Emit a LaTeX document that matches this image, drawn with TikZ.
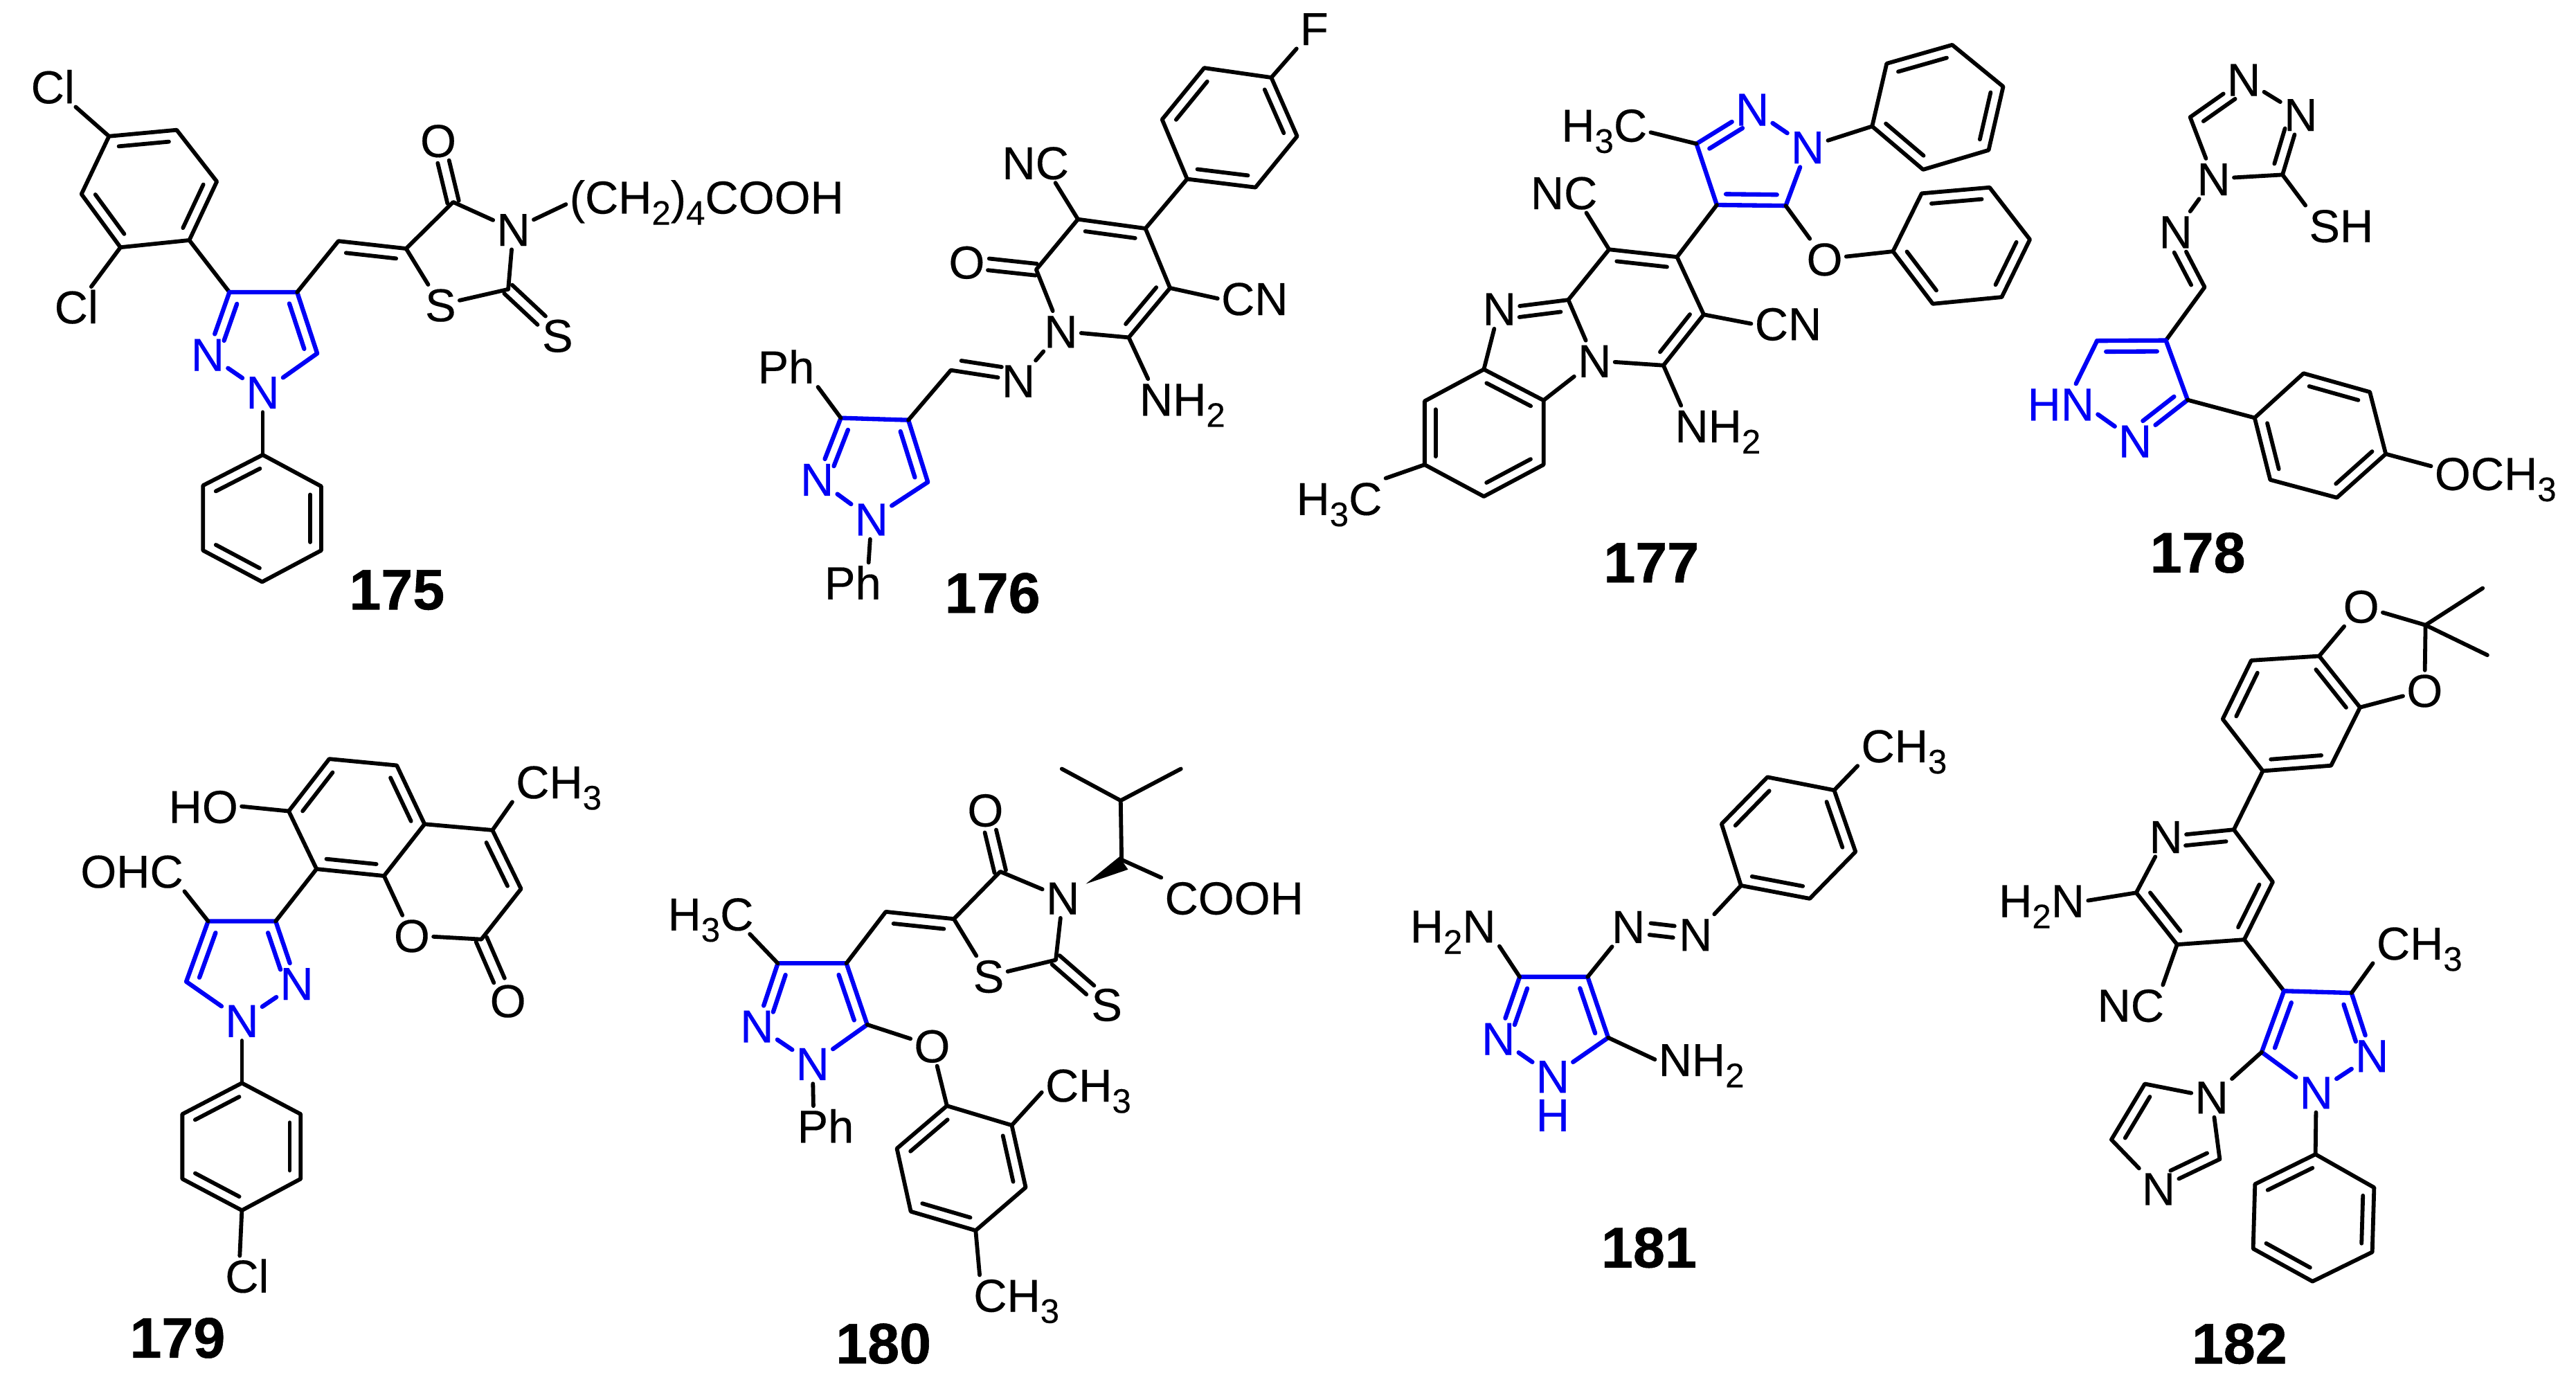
\documentclass[tikz,border=0pt]{standalone}
\usepackage{fontspec}
\setmainfont[FakeBold=0.25]{Liberation Sans}
\newfontfamily\tagfont[FakeBold=0.7]{Liberation Sans Bold}
\usetikzlibrary{calc}
\definecolor{chemblue}{RGB}{0,0,245}
% inner line of a double bond, on the right hand side going from #2 to #3
\newcommand{\dbl}[3][bond]{\draw[#1] ($(#2)!.13!(#3)!4.5pt!-90:(#3)$) to ($(#3)!.13!(#2)!4.5pt!90:(#2)$);}
% two equal lines round the axis from #2 to #3
\newcommand{\twobond}[3][bond]{\draw[#1] ($(#2)!2.4pt!90:(#3)$) to ($(#3)!2.4pt!-90:(#2)$);
  \draw[#1] ($(#2)!2.4pt!-90:(#3)$) to ($(#3)!2.4pt!90:(#2)$);}
\newcommand{\lo}[1]{\raisebox{-4.6pt}{\fontsize{14}{14}\selectfont #1}}
\begin{document}
\begin{tikzpicture}
  [atom/.style ={inner sep=1.3pt,text height=13.6pt,text depth=0pt,font=\fontsize{19}{19}\selectfont},
   blueatom/.style ={atom,text=chemblue},
   bond/.style ={line width=1.65pt,line cap=round,line join=round},
   bluebond/.style ={bond,chemblue,line width=1.8pt},
   tag/.style ={inner sep=0pt,text height=16.8pt,text depth=0pt,font=\fontsize{23.5}{23.5}\tagfont},
   view/.style n args={4}{shift={({#1*0.01cm},{-#2*0.01cm})},x={#3/1568*0.01cm},y={-#4/1568*0.01cm}}]
  \useasboundingbox (0,0) rectangle (37.21cm,-20.08cm);

  % 175
  \begin{scope}[view={0}{0}{1300}{950},name prefix=m175-]
    \coordinate (a1) at (190,325); \coordinate (a2) at (308,310); \coordinate (a3) at (378,433);
    \coordinate (a4) at (330,573); \coordinate (a5) at (210,590); \coordinate (a6) at (142,463);
    \coordinate (b1) at (400,697); \coordinate (b2) at (518,697); \coordinate (b3) at (553,843);
    \coordinate (p1) at (458,1085); \coordinate (p2) at (560,1160); \coordinate (p3) at (560,1313);
    \coordinate (p4) at (457,1388); \coordinate (p5) at (354,1313); \coordinate (p6) at (354,1158);
    \coordinate (v1) at (590,575); \coordinate (v2) at (708,593);
    \coordinate (t1) at (790,482); \coordinate (t2) at (886,690);
    \node[atom] (cl1) at (92,207) {Cl};
    \node[atom] (cl2) at (133,732) {Cl};
    \node[blueatom] (n1) at (362,845) {N};
    \node[blueatom] (n2) at (458,935) {N};
    \node[atom] (n3) at (895,547) {N};
    \node[atom] (o) at (764,335) {O};
    \node[atom] (s1) at (768,727) {S};
    \node[atom] (s2) at (972,800) {S};
    \node[atom] (chain) at (1232,470) {(CH\lo{2})\lo{4}COOH};
    \draw[bond] (a1) to (a2) to (a3) to (a4) to (a5) to (a6) to (a1);
    \dbl{a1}{a2} \dbl{a3}{a4} \dbl{a5}{a6}
    \draw[bond] (a1) to (cl1);
    \draw[bond] (a5) to (cl2);
    \draw[bond] (a4) to (b1);
    \draw[bluebond] (n1) to (b1) to (b2) to (b3) to (n2) to (n1);
    \dbl[bluebond,shorten <=4pt]{n1}{b1} \dbl[bluebond]{b2}{b3}
    \draw[bond] (n2) to (p1);
    \draw[bond] (p1) to (p2) to (p3) to (p4) to (p5) to (p6) to (p1);
    \dbl{p6}{p1} \dbl{p2}{p3} \dbl{p4}{p5}
    \draw[bond] (b2) to (v1) to (v2);
    \dbl{v1}{v2}
    \draw[bond] (v2) to (t1) to (n3) to (t2) to (s1) to (v2);
    \twobond[bond,shorten >=9pt]{t1}{o}
    \twobond[bond,shorten >=9pt]{t2}{s2}
    \draw[bond] (n3) to ([yshift=-3pt]chain.west);
    \node[tag] (tag) at (692,1405) {175};
  \end{scope}

  % 176
  \begin{scope}[view={1050}{0}{900}{950},name prefix=m176-]
    \coordinate (c1) at (288,997); \coordinate (c2) at (458,1002); \coordinate (c3) at (507,1150);
    \coordinate (im) at (565,883);
    \coordinate (r2) at (1013,805); \coordinate (r3) at (1117,687); \coordinate (r4) at (1055,545);
    \coordinate (r5) at (885,523); \coordinate (r6) at (780,643);
    \coordinate (a1) at (1160,427); \coordinate (a2) at (1097,285); \coordinate (a3) at (1203,162);
    \coordinate (a4) at (1372,185); \coordinate (a5) at (1437,325); \coordinate (a6) at (1332,447);
    \node[blueatom] (n1) at (365,1238) {N};
    \node[blueatom] (n2) at (228,1143) {N};
    \node[atom] (n3) at (735,908) {N};
    \node[atom] (n4) at (842,790) {N};
    \node[atom] (ph1) at (150,875) {Ph};
    \node[atom] (ph2) at (318,1390) {Ph};
    \node[atom] (o) at (605,625) {O};
    \node[atom] (nc) at (778,388) {NC};
    \node[atom] (cn) at (1330,712) {CN};
    \node[atom] (nh2) at (1148,952) {NH\lo{2}};
    \node[atom] (f) at (1480,68) {F};
    \draw[bluebond] (n2) to (c1) to (c2) to (c3) to (n1) to (n2);
    \dbl[bluebond,shorten <=4pt]{n2}{c1} \dbl[bluebond]{c2}{c3}
    \draw[bond] (c1) to (ph1.south east);
    \draw[bond] (n1) to ([xshift=6.5pt]ph2.north);
    \draw[bond] (c2) to (im) to (n3) to (n4) to (r2);
    \dbl[bond,shorten <=4pt]{n3}{im}
    \draw[bond] (n4) to (r6) to (r5) to (r4) to (r3) to (r2);
    \dbl{r5}{r4} \dbl{r3}{r2}
    \twobond[bond,shorten >=9pt]{r6}{o}
    \draw[bond] (r5) to ([xshift=-7pt]nc.south east);
    \draw[bond] (r3) to (cn.west);
    \draw[bond] (r2) to ([xshift=5pt]nh2.north west);
    \draw[bond] (r4) to (a1);
    \draw[bond] (a1) to (a2) to (a3) to (a4) to (a5) to (a6) to (a1);
    \dbl{a2}{a3} \dbl{a4}{a5} \dbl{a6}{a1}
    \draw[bond] (a4) to (f);
    \node[tag] (tag) at (670,1413) {176};
  \end{scope}

  % 177
  \begin{scope}[view={1850}{0}{1100}{900},name prefix=m177-]
    \coordinate (c1) at (858,362); \coordinate (c2) at (900,516); \coordinate (c3) at (1042,518);
    \coordinate (q1) at (1220,318); \coordinate (q2) at (1250,160); \coordinate (q3) at (1385,113);
    \coordinate (q4) at (1490,218); \coordinate (q5) at (1460,378); \coordinate (q6) at (1325,427);
    \coordinate (s1) at (1263,633); \coordinate (s2) at (1322,487); \coordinate (s3) at (1462,472);
    \coordinate (s4) at (1545,603); \coordinate (s5) at (1487,748); \coordinate (s6) at (1345,765);
    \coordinate (d1) at (678,628); \coordinate (d2) at (818,647); \coordinate (d3) at (873,792);
    \coordinate (d4) at (790,920); \coordinate (d6) at (594,755);
    \coordinate (e1) at (420,930); \coordinate (e2) at (543,1008); \coordinate (e3) at (543,1170);
    \coordinate (e4) at (420,1250); \coordinate (e5) at (298,1170); \coordinate (e6) at (298,1010);
    \node[blueatom] (n1) at (973,275) {N};
    \node[blueatom] (n2) at (1087,370) {N};
    \node[atom] (n3) at (648,908) {N};
    \node[atom] (n4) at (452,777) {N};
    \node[atom] (o) at (1122,652) {O};
    \node[atom] (me1) at (668,315) {H\lo{3}C};
    \node[atom] (me2) at (122,1255) {H\lo{3}C};
    \node[atom] (nc) at (585,485) {NC};
    \node[atom] (cn) at (1047,815) {CN};
    \node[atom] (nh2) at (902,1072) {NH\lo{2}};
    \draw[bluebond] (c1) to (n1) to (n2) to (c3) to (c2) to (c1);
    \dbl[bluebond,shorten >=4pt]{c1}{n1} \dbl[bluebond]{c3}{c2}
    \draw[bond] (c1) to ([yshift=-3pt]me1.east);
    \draw[bond] (n2) to (q1);
    \draw[bond] (q1) to (q2) to (q3) to (q4) to (q5) to (q6) to (q1);
    \dbl{q2}{q3} \dbl{q4}{q5} \dbl{q6}{q1}
    \draw[bond] (c3) to (o) to (s1);
    \draw[bond] (s1) to (s2) to (s3) to (s4) to (s5) to (s6) to (s1);
    \dbl{s2}{s3} \dbl{s4}{s5} \dbl{s6}{s1}
    \draw[bond] (c2) to (d2);
    \draw[bond] (d1) to (d2) to (d3) to (d4) to (n3) to (d6) to (d1);
    \dbl{d1}{d2} \dbl{d3}{d4}
    \draw[bond] (d1) to ([xshift=-6pt]nc.south east);
    \draw[bond] (d3) to (cn.west);
    \draw[bond] (d4) to ([xshift=4pt]nh2.north west);
    \draw[bond] (n4) to (d6);
    \dbl[bond,shorten <=4pt]{n4}{d6}
    \draw[bond] (n4) to (e1);
    \draw[bond] (n3) to (e2);
    \draw[bond] (e1) to (e2) to (e3) to (e4) to (e5) to (e6) to (e1);
    \dbl{e1}{e2} \dbl{e3}{e4} \dbl{e5}{e6}
    \draw[bond] (e5) to (me2.north east);
    \node[tag] (tag) at (765,1415) {177};
  \end{scope}

  % 178
  \begin{scope}[view={2900}{0}{821}{900},name prefix=m178-]
    \coordinate (t1) at (762,440); \coordinate (t2) at (507,295); \coordinate (ci) at (547,723);
    \coordinate (p1) at (250,858); \coordinate (p2) at (440,857); \coordinate (p3) at (500,1007);
    \coordinate (a1) at (685,1052); \coordinate (a2) at (820,940); \coordinate (a3) at (1003,987);
    \coordinate (a4) at (1047,1143); \coordinate (a5) at (912,1253); \coordinate (a6) at (728,1208);
    \node[atom] (n1) at (655,200) {N};
    \node[atom] (n2) at (812,288) {N};
    \node[atom] (n3) at (572,450) {N};
    \node[atom] (n4) at (467,583) {N};
    \node[blueatom] (n5) at (355,1110) {N};
    \node[blueatom] (hn) at (150,1017) {HN};
    \node[atom] (sh) at (924,568) {SH};
    \node[atom] (och) at (1350,1192) {OCH\lo{3}};
    \draw[bond] (t2) to (n1) to (n2) to (t1) to (n3) to (t2);
    \dbl[bond,shorten >=4pt]{t2}{n1} \dbl[bond,shorten <=4pt]{n2}{t1}
    \draw[bond] (t1) to (sh.north west);
    \draw[bond] (n3) to (n4) to (ci) to (p2);
    \dbl[bond,shorten <=4pt]{n4}{ci}
    \draw[bluebond] (p1) to (p2) to (p3) to (n5);
    \draw[bluebond] (n5) to ([yshift=4pt]hn.south east);
    \draw[bluebond] ([xshift=-9pt]hn.north east) to (p1);
    \dbl[bluebond]{p1}{p2} \dbl[bluebond,shorten >=4pt]{p3}{n5}
    \draw[bond] (p3) to (a1);
    \draw[bond] (a1) to (a2) to (a3) to (a4) to (a5) to (a6) to (a1);
    \dbl{a2}{a3} \dbl{a4}{a5} \dbl{a6}{a1}
    \draw[bond] (a4) to ([yshift=3pt]och.west);
    \node[tag] (tag) at (528,1390) {178};
  \end{scope}

  % 179
  \begin{scope}[view={50}{1030}{900}{978},name prefix=m179-]
    \coordinate (c1) at (437,483); \coordinate (c2) at (607,483); \coordinate (c3) at (382,623);
    \coordinate (b1) at (710,362); \coordinate (b2) at (640,228); \coordinate (b3) at (742,107);
    \coordinate (b4) at (912,122); \coordinate (b5) at (982,258); \coordinate (b6) at (880,378);
    \coordinate (k1) at (1153,272); \coordinate (k2) at (1225,408); \coordinate (k3) at (1125,525);
    \coordinate (h1) at (522,858); \coordinate (h2) at (670,930); \coordinate (h3) at (670,1080);
    \coordinate (h4) at (522,1153); \coordinate (h5) at (372,1080); \coordinate (h6) at (372,930);
    \node[blueatom] (n1) at (660,627) {N};
    \node[blueatom] (n2) at (522,713) {N};
    \node[atom] (o1) at (950,516) {O};
    \node[atom] (o2) at (1192,667) {O};
    \node[atom] (ohc) at (245,367) {OHC};
    \node[atom] (ho) at (425,217) {HO};
    \node[atom] (me) at (1320,160) {CH\lo{3}};
    \node[atom] (cl) at (535,1305) {Cl};
    \draw[bluebond] (c1) to (c2) to (n1) to (n2) to (c3) to (c1);
    \dbl[bluebond,shorten >=4pt]{c2}{n1} \dbl[bluebond]{c3}{c1}
    \draw[bond] (c1) to ([xshift=-1pt]ohc.south east);
    \draw[bond] (c2) to (b1);
    \draw[bond] (b1) to (b2) to (b3) to (b4) to (b5) to (b6) to (b1);
    \dbl{b2}{b3} \dbl{b4}{b5} \dbl{b6}{b1}
    \draw[bond] (b2) to (ho.east);
    \draw[bond] (b5) to (k1) to (k2) to (k3) to (o1) to (b6);
    \dbl{k1}{k2}
    \twobond[bond,shorten >=9pt]{k3}{o2}
    \draw[bond] (k1) to (me.south west);
    \draw[bond] (n2) to (h1);
    \draw[bond] (h1) to (h2) to (h3) to (h4) to (h5) to (h6) to (h1);
    \dbl{h6}{h1} \dbl{h2}{h3} \dbl{h4}{h5}
    \draw[bond] (h4) to ([xshift=-3pt]cl.north);
    \node[tag] (tag) at (360,1447) {179};
  \end{scope}

  % 180
  \begin{scope}[view={930}{1050}{1050}{958},name prefix=m180-]
    \coordinate (c1) at (290,560); \coordinate (c2) at (438,560); \coordinate (c3) at (483,705);
    \coordinate (r1) at (655,897); \coordinate (r2) at (795,943); \coordinate (r3) at (825,1090);
    \coordinate (r4) at (717,1192); \coordinate (r5) at (577,1147); \coordinate (r6) at (547,998);
    \coordinate (v1) at (523,438); \coordinate (v2) at (670,455);
    \coordinate (t1) at (770,343); \coordinate (t2) at (890,552);
    \coordinate (w) at (1032,315); \coordinate (wa) at (1027,308); \coordinate (wb) at (1046,338);
    \coordinate (wt) at (955,372);
    \coordinate (i) at (1030,175); \coordinate (i1) at (903,100); \coordinate (i2) at (1160,100);
    \node[blueatom] (n1) at (365,797) {N};
    \node[blueatom] (n2) at (245,708) {N};
    \node[atom] (n3) at (905,405) {N};
    \node[atom] (o1) at (623,755) {O};
    \node[atom] (o2) at (738,197) {O};
    \node[atom] (s1) at (745,590) {S};
    \node[atom] (s2) at (1000,657) {S};
    \node[atom] (me1) at (145,443) {H\lo{3}C};
    \node[atom] (me2) at (960,848) {CH\lo{3}};
    \node[atom] (me3) at (805,1345) {CH\lo{3}};
    \node[atom] (ph) at (393,945) {Ph};
    \node[atom] (cooh) at (1275,405) {COOH};
    \draw[bluebond] (n2) to (c1) to (c2) to (c3) to (n1) to (n2);
    \dbl[bluebond,shorten <=4pt]{n2}{c1} \dbl[bluebond]{c2}{c3}
    \draw[bond] (c1) to ([xshift=-3pt]me1.south east);
    \draw[bond] (n1) to ([xshift=-5pt]ph.north);
    \draw[bond] (c3) to (o1) to (r1);
    \draw[bond] (r1) to (r2) to (r3) to (r4) to (r5) to (r6) to (r1);
    \dbl{r6}{r1} \dbl{r2}{r3} \dbl{r4}{r5}
    \draw[bond] (r2) to ([yshift=-3pt]me2.west);
    \draw[bond] (r4) to ([xshift=4pt]me3.north west);
    \draw[bond] (c2) to (v1) to (v2);
    \dbl{v1}{v2}
    \draw[bond] (v2) to (t1) to (n3) to (t2) to (s1) to (v2);
    \twobond[bond,shorten >=9pt]{t1}{o2}
    \twobond[bond,shorten >=9pt]{t2}{s2}
    \fill (wt) -- (wa) -- (wb) -- cycle;
    \draw[bond] (w) to (i) to (i1);
    \draw[bond] (i) to (i2);
    \draw[bond] (w) to (cooh.north west);
    \node[tag] (tag) at (518,1458) {180};
  \end{scope}

  % 181
  \begin{scope}[view={2000}{1030}{880}{900},name prefix=m181-]
    \coordinate (c1) at (350,665); \coordinate (c2) at (525,665); \coordinate (c3) at (578,818);
    \coordinate (a1) at (920,435); \coordinate (a2) at (870,280); \coordinate (a3) at (988,162);
    \coordinate (a4) at (1160,195); \coordinate (a5) at (1215,350); \coordinate (a6) at (1097,468);
    \node[blueatom] (n1) at (435,915) {N};
    \node[blueatom,inner sep=0pt] (h) at (435,1012) {H};
    \node[blueatom] (n2) at (295,820) {N};
    \node[atom] (n3) at (630,538) {N};
    \node[atom] (n4) at (803,558) {N};
    \node[atom] (nh1) at (178,537) {H\lo{2}N};
    \node[atom] (nh2) at (818,873) {NH\lo{2}};
    \node[atom] (me) at (1340,83) {CH\lo{3}};
    \draw[bluebond] (n2) to (c1) to (c2) to (c3) to (n1) to (n2);
    \dbl[bluebond,shorten <=4pt]{n2}{c1} \dbl[bluebond]{c2}{c3}
    \draw[bond] (c1) to (nh1.south east);
    \draw[bond] (c3) to (nh2.west);
    \draw[bond] (c2) to (n3);
    \twobond[bond,shorten <=9pt,shorten >=9pt]{n3}{n4}
    \draw[bond] (n4) to (a1);
    \draw[bond] (a1) to (a2) to (a3) to (a4) to (a5) to (a6) to (a1);
    \dbl{a2}{a3} \dbl{a4}{a5} \dbl{a6}{a1}
    \draw[bond] (a4) to (me.south west);
    \node[tag] (tag) at (683,1345) {181};
  \end{scope}

  % 182
  \begin{scope}[view={2880}{900}{841}{1108},name prefix=m182-]
    \coordinate (k1) at (650,423); \coordinate (k2) at (755,530); \coordinate (k3) at (678,648);
    \coordinate (k4) at (497,658); \coordinate (k5) at (387,552);
    \coordinate (p1) at (785,753); \coordinate (p2) at (967,757); \coordinate (p3) at (725,878);
    \coordinate (d1) at (728,303); \coordinate (d2) at (620,197); \coordinate (d3) at (697,77);
    \coordinate (d4) at (880,68); \coordinate (d5) at (990,173); \coordinate (d6) at (912,292);
    \coordinate (g1) at (870,1087); \coordinate (g2) at (1028,1155); \coordinate (g3) at (1023,1287);
    \coordinate (g4) at (862,1347); \coordinate (g5) at (702,1280); \coordinate (g6) at (707,1148);
    \coordinate (i1) at (410,943); \coordinate (i2) at (320,1057); \coordinate (i3) at (612,1097);
    \node[atom] (n1) at (467,437) {N};
    \node[blueatom] (n2) at (1022,885) {N};
    \node[blueatom] (n3) at (872,960) {N};
    \node[atom] (n4) at (590,970) {N};
    \node[atom] (n5) at (447,1157) {N};
    \node[atom] (nh) at (132,568) {H\lo{2}N};
    \node[atom] (nc) at (372,782) {NC};
    \node[atom] (me) at (1150,655) {CH\lo{3}};
    \draw[bond] (n1) to (k1) to (k2) to (k3) to (k4) to (k5) to (n1);
    \dbl[bond,shorten <=4pt]{n1}{k1} \dbl{k2}{k3} \dbl{k4}{k5}
    \draw[bond] (k5) to (nh.east);
    \draw[bond] (k4) to ([xshift=-2pt]nc.north east);
    \draw[bond] (k3) to (p1);
    \draw[bluebond] (p1) to (p2) to (n2) to (n3) to (p3) to (p1);
    \dbl[bluebond,shorten >=4pt]{p2}{n2} \dbl[bluebond]{p3}{p1}
    \draw[bond] (p2) to (me.south west);
    \draw[bond] (p3) to (n4) to (i1) to (i2) to (n5) to (i3) to (n4);
    \dbl{i2}{i1} \dbl[bond,shorten >=4pt]{i3}{n5}
    \draw[bond] (n3) to (g1);
    \draw[bond] (g1) to (g2) to (g3) to (g4) to (g5) to (g6) to (g1);
    \dbl{g6}{g1} \dbl{g2}{g3} \dbl{g4}{g5}
    \draw[bond] (k1) to (d1);
    \draw[bond] (d1) to (d2) to (d3) to (d4) to (d5) to (d6) to (d1);
    \dbl{d2}{d3} \dbl{d4}{d5} \dbl{d6}{d1}
    \node[tag] (tag) at (665,1473) {182};
  \end{scope}
  % dioxolane of 182, read off a closer view
  \begin{scope}[view={3200}{800}{522.67}{522.67},name prefix=m182-]
    \coordinate (q) at (917,310); \coordinate (q1) at (1165,150); \coordinate (q2) at (1185,440);
    \node[atom] (o1) at (638,228) {O};
    \node[atom] (o2) at (913,593) {O};
    \draw[bond] (d4) to (o1) to (q) to (o2) to (d5);
    \draw[bond] (q) to (q1);
    \draw[bond] (q) to (q2);
  \end{scope}
\end{tikzpicture}
\end{document}
